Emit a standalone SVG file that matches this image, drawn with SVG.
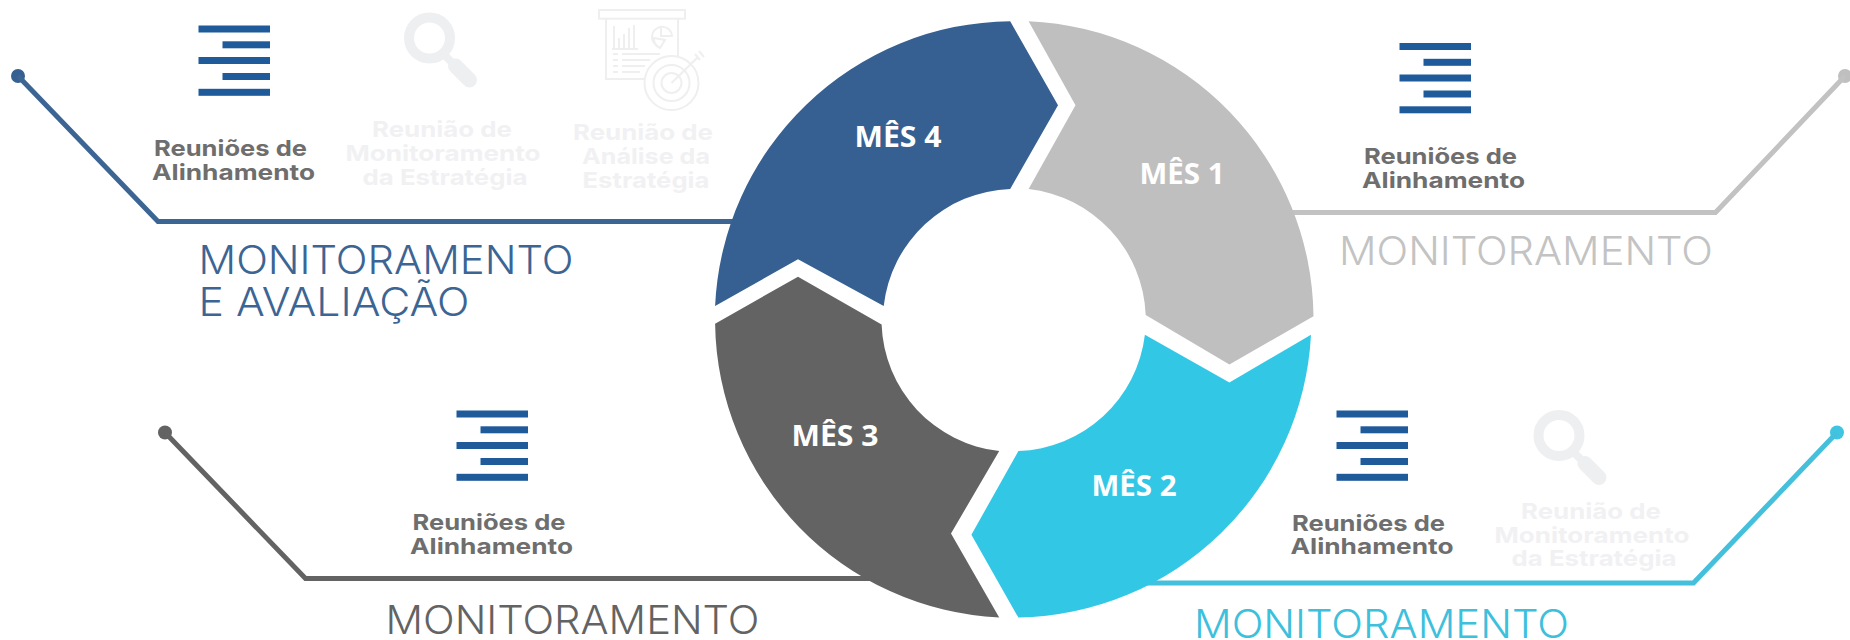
<svg xmlns="http://www.w3.org/2000/svg" width="1850" height="640" viewBox="0 0 1850 640">
<style>
.bars{fill:#1f5a9a}
.lbl{font-family:"Inter","Liberation Sans",sans-serif;font-weight:700;font-size:22px;fill:#6e6e6e;text-anchor:middle}
.fade{font-family:"Inter","Liberation Sans",sans-serif;font-weight:700;font-size:22px;fill:#f1f1f3;text-anchor:middle}
.head{font-family:"Inter","Liberation Sans",sans-serif;font-weight:300;font-size:39px}
.mes{font-family:"Open Sans","Liberation Sans",sans-serif;font-weight:700;font-size:29px;fill:#fff;text-anchor:middle}
.conn{fill:none;stroke-width:5;stroke-linejoin:miter}
.mag{fill:none;stroke:#eeeff1}
.chart{fill:none;stroke:#efefef;stroke-width:2}
</style>
<defs>
<g id="bars" class="bars">
<rect x="0" y="0.5" width="71.5" height="7"/>
<rect x="24" y="16.3" width="47.5" height="7"/>
<rect x="0" y="32" width="71.5" height="7"/>
<rect x="24" y="48" width="47.5" height="7"/>
<rect x="0" y="63.8" width="71.5" height="7"/>
</g>
<g id="magnifier" class="mag">
<circle cx="0" cy="0" r="20.5" stroke-width="10"/>
<path d="M15 17L27 29" stroke-width="8"/>
<path d="M26 28L40 42" stroke-width="15" stroke-linecap="round"/>
</g>
</defs>

<g id="connectors">
<circle cx="18" cy="76" r="7" fill="#376092"/>
<path class="conn" stroke="#3c6594" d="M18 76L158 221.5H735"/>
<circle cx="1845" cy="76" r="7" fill="#bfbfbf"/>
<path class="conn" stroke="#c2c2c2" d="M1845 76L1715.5 212.5H1290"/>
<circle cx="165" cy="432.5" r="7" fill="#636363"/>
<path class="conn" stroke="#636363" d="M165 432.5L305.5 578.5H880"/>
<circle cx="1837" cy="432.5" r="7" fill="#3fc4e2"/>
<path class="conn" stroke="#45c0dc" d="M1837 432.5L1693.5 583H1145"/>
</g>

<g id="mes1">
<path fill="#bfbfbf" d="M1028.6 21.2A298.5 298.5 0 0 1 1313.5 316.3L1229.4 364.5L1145.7 315A132 132 0 0 0 1028.6 189L1075.5 105.3Z"/>
<text class="mes" x="1182" y="183.5" textLength="85" lengthAdjust="spacingAndGlyphs">MÊS 1</text>
</g>
<g id="mes2">
<path fill="#33c7e6" d="M1311 334.7A298.5 298.5 0 0 1 1018.4 617.6L971.4 534.7L1018.4 451A132 132 0 0 0 1144.9 334.7L1229.4 382.4Z"/>
<text class="mes" x="1134" y="496" textLength="85" lengthAdjust="spacingAndGlyphs">MÊS 2</text>
</g>
<g id="mes3">
<path fill="#636363" d="M999.2 617.6A298.5 298.5 0 0 1 715.1 323.7L798 276.7L881.6 324.5A132 132 0 0 0 999.2 451L951 533.5Z"/>
<text class="mes" x="835" y="445.5" textLength="87" lengthAdjust="spacingAndGlyphs">MÊS 3</text>
</g>
<g id="mes4">
<path fill="#376092" d="M715.1 306A298.5 298.5 0 0 1 1010.2 21.2L1058 105.3L1010.2 189A132 132 0 0 0 883.7 306L798 259.2Z"/>
<text class="mes" x="898" y="147" textLength="87" lengthAdjust="spacingAndGlyphs">MÊS 4</text>
</g>

<g id="panel-mes4">
<use href="#bars" x="198.5" y="25"/>
<text class="lbl" x="230.5" y="156" textLength="153" lengthAdjust="spacingAndGlyphs">Reuniões de</text>
<text class="lbl" x="233.5" y="180" textLength="163" lengthAdjust="spacingAndGlyphs">Alinhamento</text>
<use href="#magnifier" x="429.5" y="38"/>
<text class="fade" x="442" y="137" textLength="140" lengthAdjust="spacingAndGlyphs">Reunião de</text>
<text class="fade" x="443" y="161" textLength="195" lengthAdjust="spacingAndGlyphs">Monitoramento</text>
<text class="fade" x="445" y="185" textLength="165" lengthAdjust="spacingAndGlyphs">da Estratégia</text>
<g class="chart">
<rect x="599" y="10" width="86" height="8.7"/>
<path d="M606 18.7V79H648M678 18.7V57"/>
<path d="M614 26V49M619 38V49M624 34V49M629 28V49M634 25V49M612 49H638"/>
<path d="M655 44A10 10 0 1 1 672 36H661V26M654 38A10 10 0 0 0 660 48L665 40Z"/>
<path d="M613 54H618M622 54H660M613 60H618M622 60H650M613 66H618M622 66H645M613 72H618M622 72H640"/>
<circle cx="671.5" cy="83" r="27" fill="#fff"/>
<circle cx="671.5" cy="83" r="18"/>
<circle cx="671.5" cy="83" r="10"/>
<path d="M671.5 83L697 58M695 54L700 60M699 51L704 57"/>
</g>
<text class="fade" x="643" y="140" textLength="140" lengthAdjust="spacingAndGlyphs">Reunião de</text>
<text class="fade" x="646" y="164" textLength="128" lengthAdjust="spacingAndGlyphs">Análise da</text>
<text class="fade" x="646" y="188" textLength="127" lengthAdjust="spacingAndGlyphs">Estratégia</text>
<text class="head" fill="#3c6594" x="198.5" y="274" textLength="375" lengthAdjust="spacingAndGlyphs">MONITORAMENTO</text>
<text class="head" fill="#3c6594" x="198.5" y="316" textLength="271" lengthAdjust="spacingAndGlyphs">E AVALIAÇÃO</text>
</g>

<g id="panel-mes1">
<use href="#bars" x="1399.5" y="42.5"/>
<text class="lbl" x="1440.5" y="164" textLength="153" lengthAdjust="spacingAndGlyphs">Reuniões de</text>
<text class="lbl" x="1443.5" y="187.5" textLength="163" lengthAdjust="spacingAndGlyphs">Alinhamento</text>
<text class="head" fill="#c3c3c3" x="1339" y="264.5" textLength="374" lengthAdjust="spacingAndGlyphs">MONITORAMENTO</text>
</g>

<g id="panel-mes2">
<use href="#bars" x="1336.5" y="410"/>
<text class="lbl" x="1368.5" y="530.5" textLength="153" lengthAdjust="spacingAndGlyphs">Reuniões de</text>
<text class="lbl" x="1372" y="554" textLength="163" lengthAdjust="spacingAndGlyphs">Alinhamento</text>
<use href="#magnifier" x="1559" y="435.5"/>
<text class="fade" x="1591" y="518.5" textLength="140" lengthAdjust="spacingAndGlyphs">Reunião de</text>
<text class="fade" x="1592" y="542.5" textLength="195" lengthAdjust="spacingAndGlyphs">Monitoramento</text>
<text class="fade" x="1594" y="566" textLength="165" lengthAdjust="spacingAndGlyphs">da Estratégia</text>
<text class="head" fill="#3cc0dc" x="1194" y="638" textLength="375" lengthAdjust="spacingAndGlyphs">MONITORAMENTO</text>
</g>

<g id="panel-mes3">
<use href="#bars" x="456.5" y="410"/>
<text class="lbl" x="489" y="530" textLength="153" lengthAdjust="spacingAndGlyphs">Reuniões de</text>
<text class="lbl" x="491.5" y="554" textLength="163" lengthAdjust="spacingAndGlyphs">Alinhamento</text>
<text class="head" fill="#636363" x="385.5" y="633.5" textLength="374" lengthAdjust="spacingAndGlyphs">MONITORAMENTO</text>
</g>
</svg>
